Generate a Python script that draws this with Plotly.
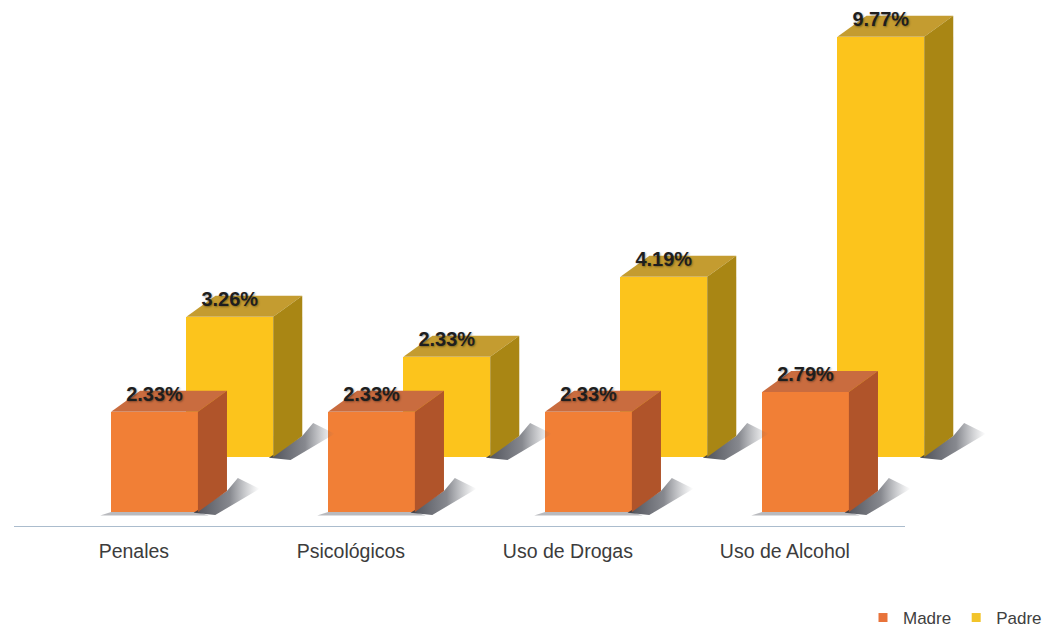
import plotly.graph_objects as go

categories = ["Penales", "Psicológicos", "Uso de Drogas", "Uso de Alcohol"]
madre = [2.33, 2.33, 2.33, 2.79]
padre = [3.26, 2.33, 4.19, 9.77]
series_names = ["Madre", "Padre"]

# --- styling / geometry constants (pseudo-3D look) ---
BAR_W = 0.40          # front face width (x units)
DX, DY = 0.134, 0.488  # depth offset of the 3D boxes
PADRE_SHIFT = 0.347    # padre row sits behind and to the right
PADRE_BASE = 1.28      # padre row floor level (depth row)
TICK_SHIFT = -0.095
LABEL_OFFSET = 0.37

C = {
    "Madre": dict(front="#f17f36", top="#c96c3f", side="#b0542a", legend="#e8733a"),
    "Padre": dict(front="#fcc41c", top="#c49c30", side="#a98614", legend="#f2c42a"),
}

fig = go.Figure()


def poly(xs, ys, color, gradient=None):
    kw = dict(fillcolor=color)
    if gradient is not None:
        kw = dict(fillgradient=gradient)
    fig.add_trace(go.Scatter(x=xs + [xs[0]], y=ys + [ys[0]], mode="lines", fill="toself",
                             line=dict(width=0), hoverinfo="skip", showlegend=False, **kw))


SHADOW_GRAD = dict(type="horizontal",
                   colorscale=[[0, "rgba(45,48,58,0.85)"], [0.55, "rgba(55,58,68,0.6)"],
                               [1, "rgba(90,95,105,0.0)"]])


def add_series(name, values, shift, base, left_shadow):
    col = C[name]
    xc = [i + shift for i in range(len(values))]
    # soft shadows on the floor
    for x, v in zip(xc, values):
        xl, xr = x - BAR_W / 2, x + BAR_W / 2
        b = base
        if left_shadow:
            poly([xl, xl - 0.05, xr + 0.05, xr],
                 [b, b - 0.08, b - 0.08, b], "rgba(55,58,68,0.35)")
        poly([xr - 0.02, xr + 0.08, xr + DX + 0.15, xr + DX + 0.05, xr + DX],
             [b - 0.02, b - 0.07, b + DY + 0.05, b + DY + 0.3, b + DY],
             None, SHADOW_GRAD)
    # front faces
    fig.add_trace(go.Bar(x=xc, y=values, base=[base] * len(values), width=BAR_W,
                         marker=dict(color=col["front"], line=dict(width=0)),
                         name=name, showlegend=False))
    # top and side faces
    for x, v in zip(xc, values):
        xl, xr = x - BAR_W / 2, x + BAR_W / 2
        yb, yt = base, base + v
        poly([xl, xr, xr + DX, xl + DX], [yt, yt, yt + DY, yt + DY], col["top"])
        poly([xr, xr + DX, xr + DX, xr], [yb, yb + DY, yt + DY, yt], col["side"])
    # value labels
    fig.add_trace(go.Scatter(x=xc, y=[base + v + LABEL_OFFSET for v in values], mode="text",
                             text=[f"{v:.2f}%" for v in values], hoverinfo="skip",
                             showlegend=False, cliponaxis=False,
                             textfont=dict(family="Liberation Sans", size=20, color="#1e1e1e",
                                           weight="bold", shadow="1px 1px 2px rgba(0,0,0,0.35)")))


# back row first, then front row
add_series("Padre", padre, PADRE_SHIFT, PADRE_BASE, False)
add_series("Madre", madre, 0.0, 0.0, True)

# legend entries
for name in series_names:
    fig.add_trace(go.Scatter(x=[None], y=[None], mode="markers", name=name,
                             marker=dict(symbol="square", size=9, color=C[name]["legend"])))

x0, x1 = -0.6475, 4.1129
y0, y1 = -0.349, 11.721

fig.add_shape(type="line", xref="x", yref="y", x0=x0, x1=3.4585, y0=y0, y1=y0,
              line=dict(color="#8fa6bd", width=1.5))

fig.update_layout(
    width=1051, height=630,
    margin=dict(l=6, r=12, t=0, b=111, autoexpand=False),
    paper_bgcolor="white", plot_bgcolor="white",
    barmode="overlay", bargap=0,
    font=dict(family="Liberation Sans", color="#3c3c3c"),
    xaxis=dict(range=[x0, x1], showgrid=False, zeroline=False, showline=False,
               tickmode="array", tickvals=[i + TICK_SHIFT for i in range(len(categories))],
               ticktext=categories, ticks="", ticklabelstandoff=10, automargin=False,
               tickfont=dict(size=19.5, color="#3c3c3c")),
    yaxis=dict(range=[y0, y1], visible=False, showgrid=False, zeroline=False),
    legend=dict(orientation="h", x=1.0, xanchor="right", y=-0.1753, yanchor="middle",
                font=dict(size=17, color="#404040"), itemwidth=30, bgcolor="rgba(0,0,0,0)"),
    showlegend=True,
)

fig.write_html("out.html")
